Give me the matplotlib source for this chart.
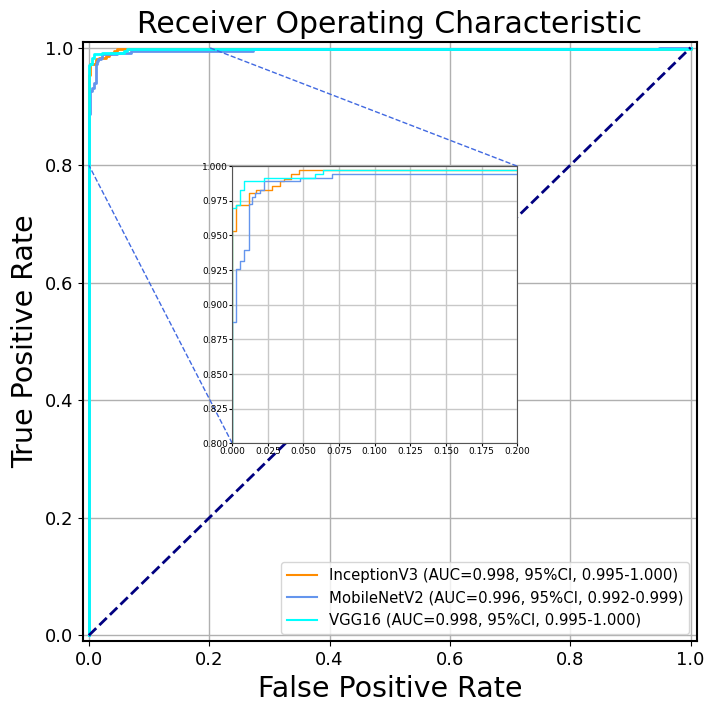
import matplotlib
matplotlib.use("Agg")
import matplotlib.pyplot as plt
from mpl_toolkits.axes_grid1.inset_locator import mark_inset

# ROC corner points (steps-post)
inc_fpr = [0, 0, 0.0026, 0.012, 0.0166, 0.0277, 0.0335, 0.0363, 0.0413, 0.047, 1.0, 1.0]
inc_tpr = [0, 0.953, 0.972, 0.9805, 0.983, 0.986, 0.989, 0.991, 0.9945, 0.997, 0.997, 1.0]

mob_fpr = [0, 0, 0.0026, 0.0054, 0.0084, 0.0117, 0.014, 0.016, 0.0195, 0.0223, 0.0476, 0.0699, 0.273, 0.947, 1.0]
mob_tpr = [0, 0.8876, 0.926, 0.9313, 0.9397, 0.9724, 0.978, 0.9805, 0.983, 0.989, 0.9916, 0.9945, 0.997, 1.0, 1.0]

vgg_fpr = [0, 0, 0.0026, 0.0054, 0.0084, 0.0223, 0.058, 0.064, 1.0, 1.0]
vgg_tpr = [0, 0.9697, 0.972, 0.983, 0.989, 0.9916, 0.9945, 0.997, 0.997, 1.0]

labels = ["InceptionV3 (AUC=0.998, 95%CI, 0.995-1.000)",
          "MobileNetV2 (AUC=0.996, 95%CI, 0.992-0.999)",
          "VGG16 (AUC=0.998, 95%CI, 0.995-1.000)"]
colors = ["darkorange", "cornflowerblue", "aqua"]
series = [(inc_fpr, inc_tpr), (mob_fpr, mob_tpr), (vgg_fpr, vgg_tpr)]

fig = plt.figure(figsize=(7.08, 7.07), dpi=100)
ax = fig.add_axes([0.117, 0.093, 0.867, 0.848])
for (f, t), c, lab in zip(series, colors, labels):
    ax.plot(f, t, color=c, lw=2, drawstyle="steps-post", label=lab)
ax.plot([0, 1], [0, 1], color="navy", lw=2, ls="--")
ax.set_xlim(-0.01, 1.01)
ax.set_ylim(-0.01, 1.01)
ax.grid(True, color="#b0b0b0", lw=1)
ax.set_title("Receiver Operating Characteristic", fontsize=21.5)
ax.set_xlabel("False Positive Rate", fontsize=20.5)
ax.set_ylabel("True Positive Rate", fontsize=20.5)
ax.tick_params(labelsize=13)
for s in ax.spines.values():
    s.set_linewidth(1.5)
leg = ax.legend(loc="lower right", fontsize=10.7)
for ln in leg.get_lines():
    ln.set_linewidth(1.5)

axin = fig.add_axes([0.328, 0.373, 0.4025, 0.392])
for (f, t), c in zip(series, colors):
    axin.plot(f, t, color=c, lw=1, drawstyle="steps-post")
axin.set_xlim(0, 0.2)
axin.set_ylim(0.8, 1.0)
axin.set_xticks([0, 0.025, 0.05, 0.075, 0.1, 0.125, 0.15, 0.175, 0.2])
axin.set_yticks([0.8, 0.825, 0.85, 0.875, 0.9, 0.925, 0.95, 0.975, 1.0])
axin.xaxis.set_major_formatter(matplotlib.ticker.FormatStrFormatter("%.3f"))
axin.yaxis.set_major_formatter(matplotlib.ticker.FormatStrFormatter("%.3f"))
axin.tick_params(labelsize=6.5, length=2, pad=1)
axin.grid(True, color="#c8c8c8", lw=1)
for s in axin.spines.values():
    s.set_color("#555555")

pp, p1, p2 = mark_inset(ax, axin, loc1=1, loc2=3, fc="none", ec="royalblue", ls="--", lw=1)
pp.set_visible(False)

fig.savefig("out.png", dpi=100)
